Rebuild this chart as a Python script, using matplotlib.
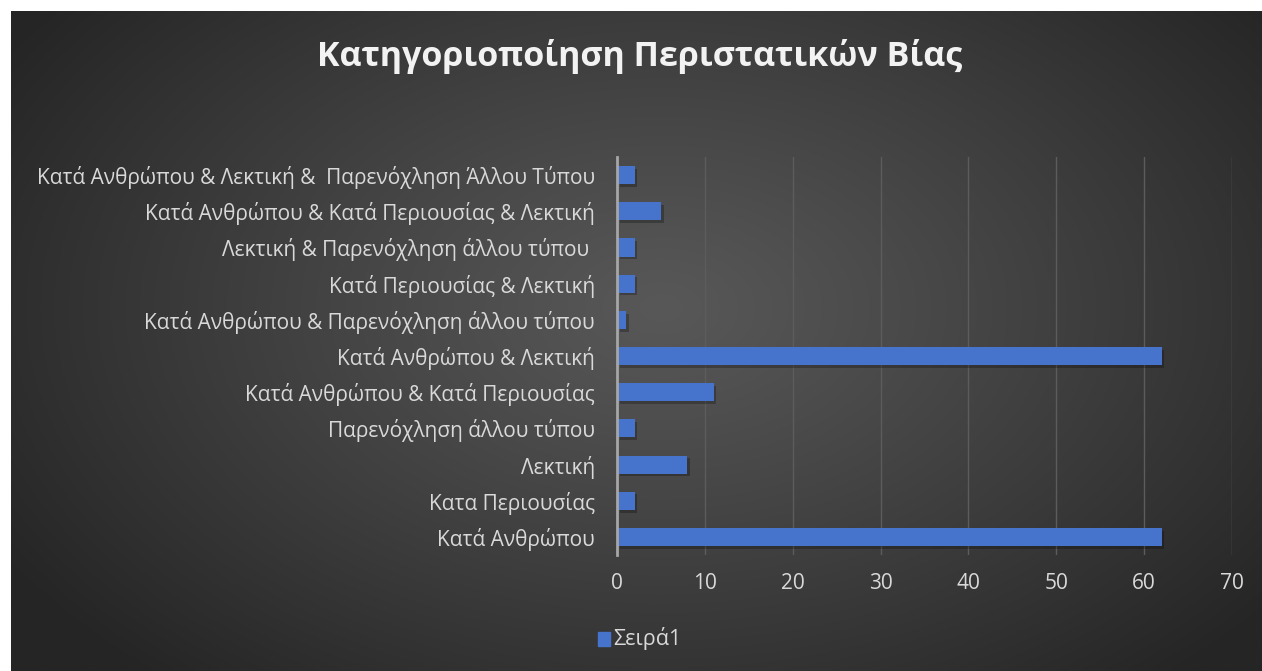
import matplotlib
matplotlib.use("Agg")
import matplotlib.pyplot as plt
import matplotlib.patheffects as pe
import numpy as np

plt.rcParams['font.family'] = ['Open Sans', 'DejaVu Sans']

categories = [
    "Κατά Ανθρώπου",
    "Κατα Περιουσίας",
    "Λεκτική",
    "Παρενόχληση άλλου τύπου",
    "Κατά Ανθρώπου & Κατά Περιουσίας",
    "Κατά Ανθρώπου & Λεκτική",
    "Κατά Ανθρώπου & Παρενόχληση άλλου τύπου",
    "Κατά Περιουσίας & Λεκτική",
    "Λεκτική & Παρενόχληση άλλου τύπου ",
    "Κατά Ανθρώπου & Κατά Περιουσίας & Λεκτική",
    "Κατά Ανθρώπου & Λεκτική &  Παρενόχληση Άλλου Τύπου",
]
values = [62, 2, 8, 2, 11, 62, 1, 2, 2, 5, 2]
xticks = [0, 10, 20, 30, 40, 50, 60, 70]
title = "Κατηγοριοποίηση Περιστατικών Βίας"
series_name = "Σειρά1"

W, H = 1262, 671
fig = plt.figure(figsize=(W / 100, H / 100), dpi=100)
fig.patch.set_facecolor("white")

# dark radial gradient background (white strip on top and left)
bg = fig.add_axes([11 / W, 0, 1 - 11 / W, 1 - 11 / H])
bg.set_axis_off()
yy, xx = np.mgrid[0:1:400j, 0:1:700j]
r = np.sqrt(((xx - 0.52) / 0.62) ** 2 + ((yy - 0.55) / 0.75) ** 2)
r = np.clip(r, 0, 1)
c0, c1 = 0x58 / 255, 0x25 / 255
shade = c0 + (c1 - c0) * r ** 1.1
img = np.dstack([shade, shade, shade])
bg.imshow(img, extent=[0, 1, 0, 1], aspect="auto", origin="lower")

ax = fig.add_axes([617 / W, 1 - 555 / H, (1232 - 617) / W, (555 - 157) / H])
ax.patch.set_alpha(0)
y = np.arange(len(categories))
bars = ax.barh(y, values, height=0.5, color="#4674cc", zorder=3)
for b in bars:
    b.set_path_effects([pe.SimplePatchShadow(offset=(2, -2), shadow_rgbFace="black", alpha=0.25), pe.Normal()])

ax.set_xlim(0, 70)
ax.set_ylim(-0.5, len(categories) - 0.5)
ax.set_xticks(xticks)
ax.set_yticks(y)
ax.set_yticklabels(categories)
ax.grid(axis="x", color="#5c5c5c", linewidth=1.0, zorder=0)
for s in ["top", "right", "bottom"]:
    ax.spines[s].set_visible(False)
ax.spines["left"].set_color("#a6a6a6")
ax.spines["left"].set_linewidth(2)
ax.spines["left"].set_zorder(4)
ax.tick_params(axis="both", length=0, colors="#d9d9d9")
ax.tick_params(axis="y", pad=16, labelsize=15)
ax.tick_params(axis="x", pad=13, labelsize=15)

fig.text(0.507, 1 - 56 / H, title, ha="center", va="center", color="#f2f2f2",
         fontsize=24.5, fontweight="bold")

# legend
fig.patches.append(plt.Rectangle((598 / W, 1 - 646 / H), 12 / W, 14 / H,
                                 transform=fig.transFigure, color="#4674cc"))
fig.text(613 / W, 1 - 639 / H, series_name, ha="left", va="center",
         color="#d9d9d9", fontsize=15.5)

fig.savefig("out.png", dpi=100, facecolor=fig.get_facecolor())
